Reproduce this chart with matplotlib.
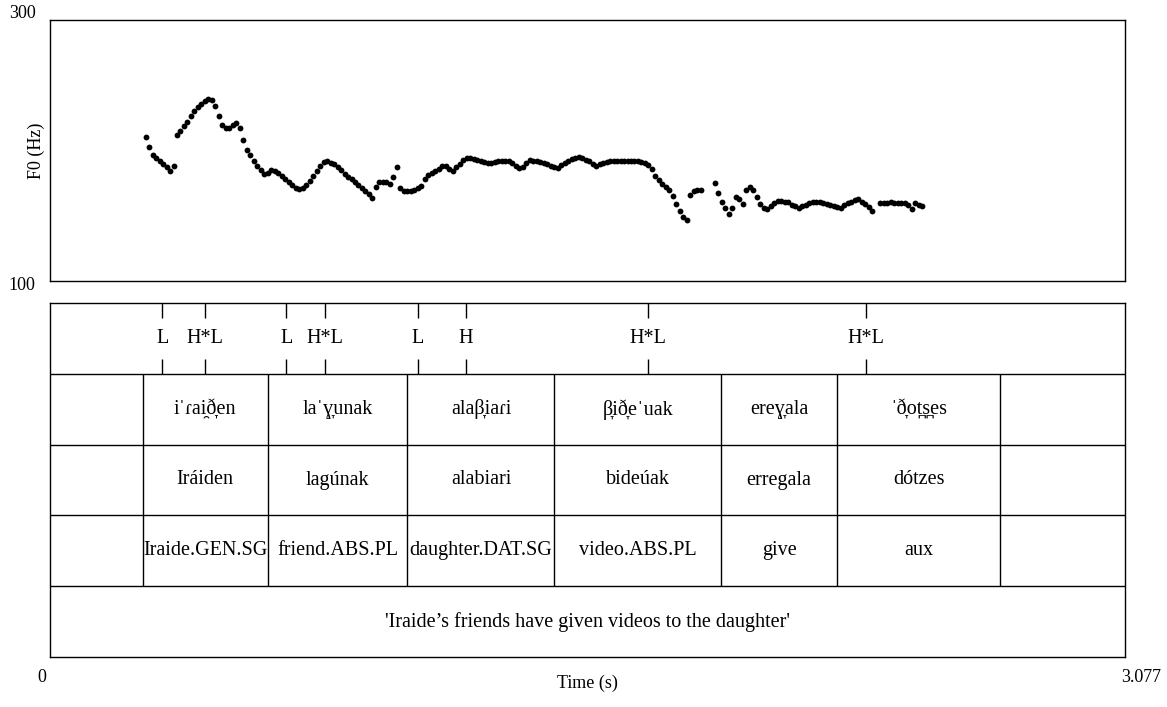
import numpy as np
import matplotlib
matplotlib.use("Agg")
import matplotlib.pyplot as plt

plt.rcParams['font.family'] = ['Liberation Serif', 'DejaVu Serif']

t_max = 3.077
f0_min, f0_max = 100, 300
step = 0.01  # pitch frame step (s)

# voiced stretches: start time and F0 (Hz) every 10 ms
seg_a_start = 0.274
seg_a = [210.3, 202.7, 196.6, 194.3, 192.0, 189.7, 187.4, 184.3, 188.1]

seg_b_start = 0.363
seg_b = [211.9, 214.9, 218.4, 222.2, 226.8, 230.3, 233.3, 235.6, 237.9, 239.8,
         238.7, 234.1, 226.8, 219.5, 217.2, 217.6, 219.5, 221.1, 216.9, 207.7,
         200.4, 196.6, 192.3, 188.5, 185.4, 182.0, 182.4, 184.7, 184.3, 182.4,
         180.1, 178.2, 175.9, 173.6, 171.6, 170.5, 171.6, 173.9, 176.6, 180.1,
         184.3, 188.1, 191.2, 191.6, 190.8, 189.3, 187.0, 184.7, 182.0, 179.7,
         177.8, 175.5, 173.2, 171.6, 169.3, 166.7, 163.6]

seg_c_start = 0.933
seg_c = [172.0, 175.9, 176.2, 175.9, 174.7, 179.7, 187.0]

seg_d_start = 1.003
seg_d = [171.6, 168.6, 168.6, 169.3, 170.1, 171.3, 172.8, 178.5, 181.2, 182.8,
         184.3, 186.2, 188.1, 188.1, 185.8, 184.3, 187.4, 190.0, 192.7, 194.3,
         194.3, 193.5, 193.1, 192.0, 191.2, 190.8, 190.8, 191.2, 191.6, 191.6,
         191.6, 191.6, 190.4, 188.5, 186.6, 187.4, 190.4, 192.7, 192.3, 192.0,
         191.4, 190.4, 189.7, 188.5, 187.0, 186.6, 188.9, 190.8, 192.0, 193.5,
         194.6, 194.8, 194.3, 193.1, 192.0, 190.0, 188.5, 189.7, 190.8, 191.4,
         191.6, 191.6, 191.6, 191.6, 191.6, 191.7, 192.0, 192.0, 191.6, 191.2,
         190.7, 188.9, 185.8, 180.8, 177.4, 174.7, 172.4, 169.7, 164.8, 159.0,
         153.6, 149.0, 146.7]

seg_e_start = 1.832
seg_e = [165.9, 168.6, 169.7, 169.7]

seg_f_start = 1.903
seg_f = [174.9, 167.8, 160.9, 156.3, 151.3, 156.3, 164.6, 162.8, 159.0, 170.1,
         172.0, 170.1, 164.0, 159.0, 155.9, 155.2, 157.5, 159.8, 161.3, 161.3,
         160.9, 160.2, 158.6, 157.1, 156.3, 157.1, 158.2, 159.4, 160.2, 160.9,
         160.5, 159.8, 159.0, 158.2, 157.5, 156.7, 156.3, 157.9, 159.4, 160.5,
         161.7, 162.5, 160.9, 159.0, 156.7, 153.6]

seg_g_start = 2.376
seg_g = [159.4, 159.8, 160.0, 160.2, 160.0, 159.8, 159.5, 159.4, 158.2, 155.2,
         159.4, 158.6, 157.1]

segments = [(seg_a_start, seg_a), (seg_b_start, seg_b), (seg_c_start, seg_c),
            (seg_d_start, seg_d), (seg_e_start, seg_e), (seg_f_start, seg_f),
            (seg_g_start, seg_g)]

# annotation tiers
tone_times = [0.322, 0.444, 0.676, 0.786, 1.052, 1.191, 1.712, 2.336]
tone_labels = ["L", "H*L", "L", "H*L", "L", "H", "H*L", "H*L"]

word_bounds = [0.266, 0.623, 1.023, 1.444, 1.921, 2.253, 2.719]
ipa_words = ["iˈɾai̯ð̞en", "laˈɣ̞unak", "alaβ̞iaɾi", "β̞ið̞eˈuak", "ereɣ̞ala", "ˈð̞ot̪s̪es"]
ortho_words = ["Iráiden", "lagúnak", "alabiari", "bideúak", "erregala", "dótzes"]
gloss_words = ["Iraide.GEN.SG", "friend.ABS.PL", "daughter.DAT.SG", "video.ABS.PL", "give", "aux"]
translation = "'Iraide’s friends have given videos to the daughter'"

W, H = 1167, 707
fig = plt.figure(figsize=(W / 100, H / 100), dpi=100)

left, right = 50, 1125
ax = fig.add_axes([left / W, 1 - 281 / H, (right - left) / W, 261 / H])
ax2 = fig.add_axes([left / W, 1 - 657 / H, (right - left) / W, 354 / H])

for start, vals in segments:
    times = start + step * np.arange(len(vals))
    ax.plot(times, vals, 'o', color='black', ms=4.2, mew=0, linestyle='none')

ax.set_xlim(0, t_max)
ax.set_ylim(f0_min, f0_max)
ax.set_xticks([])
ax.set_yticks([])
for s in ax.spines.values():
    s.set_linewidth(1.0)

# tiers: translation 0-1, gloss 1-2, orthography 2-3, IPA 3-4, tones 4-5
ax2.set_xlim(0, t_max)
ax2.set_ylim(0, 5)
ax2.set_xticks([])
ax2.set_yticks([])
for s in ax2.spines.values():
    s.set_linewidth(1.0)
ax2.hlines([1, 2, 3, 4], 0, t_max, color='black', lw=1.0)
ax2.vlines(word_bounds, 1, 4, color='black', lw=1.0)
ax2.vlines(tone_times, 4.0, 4.21, color='black', lw=1.0)
ax2.vlines(tone_times, 4.79, 5.0, color='black', lw=1.0)

fs = 13
fs_tier = 14.5
for t, lab in zip(tone_times, tone_labels):
    ax2.text(t, 4.5, lab, ha='center', va='center', fontsize=fs_tier)
mids = [(a + b) / 2 for a, b in zip(word_bounds[:-1], word_bounds[1:])]
for row, words in [(3.5, ipa_words), (2.5, ortho_words), (1.5, gloss_words)]:
    for m, w in zip(mids, words):
        ax2.text(m, row, w, ha='center', va='center', fontsize=fs_tier)
ax2.text(t_max / 2, 0.5, translation, ha='center', va='center', fontsize=fs_tier)

# Praat-style corner labels
fig.text(22 / W, 1 - 14 / H, str(f0_max), ha='center', va='center', fontsize=fs)
fig.text(22 / W, 1 - 286 / H, str(f0_min), ha='center', va='center', fontsize=fs)
fig.text(36 / W, 1 - 151 / H, "F0 (Hz)", ha='center', va='center', rotation=90, fontsize=fs)
fig.text(42 / W, 1 - 677 / H, "0", ha='center', va='center', fontsize=fs)
fig.text(1141 / W, 1 - 677 / H, str(t_max), ha='center', va='center', fontsize=fs)
fig.text((left + right) / 2 / W, 1 - 683 / H, "Time (s)", ha='center', va='center', fontsize=fs)

fig.savefig("out.png", dpi=100)
